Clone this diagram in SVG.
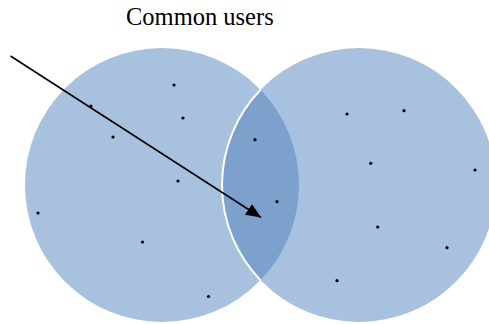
<svg xmlns="http://www.w3.org/2000/svg" width="489" height="324" viewBox="0 0 489 324">
<style>
.set{fill:#A8C1DF;}
.lens{fill:#7BA1CC;}
.edge{fill:none;stroke:#FFFFFF;stroke-width:2;}
.dot{fill:#000000;}
.lbl{font-family:"Liberation Serif","Times New Roman",serif;font-size:24.5px;fill:#000000;}
.conn{stroke:#000000;stroke-width:1.6;fill:none;}
</style>
<defs>
<marker id="ah" markerUnits="userSpaceOnUse" markerWidth="16" markerHeight="14" refX="15" refY="6.5" orient="auto">
<path d="M0,0 L15,6.5 L0,13 Z" fill="#000000"/>
</marker>
</defs>
<rect width="489" height="324" fill="#FFFFFF"/>
<g id="set-left">
<circle class="set" cx="162" cy="185" r="137"/>
</g>
<g id="set-right">
<circle class="set" cx="359" cy="185" r="137"/>
</g>
<g id="common">
<path class="lens" d="M260.5,89.8 A137,137 0 0 1 260.5,280.2 A137,137 0 0 1 260.5,89.8 Z"/>
<path class="edge" d="M260.5,280.2 A137,137 0 0 1 260.5,89.8"/>
</g>
<g id="users-left">
<circle class="dot" cx="174" cy="85" r="1.6"/>
<circle class="dot" cx="91" cy="106" r="1.6"/>
<circle class="dot" cx="183" cy="118" r="1.6"/>
<circle class="dot" cx="113" cy="137" r="1.6"/>
<circle class="dot" cx="178" cy="181" r="1.6"/>
<circle class="dot" cx="38" cy="213" r="1.6"/>
<circle class="dot" cx="142.5" cy="242" r="1.6"/>
<circle class="dot" cx="208.5" cy="296.5" r="1.6"/>
</g>
<g id="users-common">
<circle class="dot" cx="255" cy="139.7" r="1.6"/>
<circle class="dot" cx="277" cy="201.7" r="1.6"/>
</g>
<g id="users-right">
<circle class="dot" cx="347" cy="114" r="1.6"/>
<circle class="dot" cx="404" cy="110.7" r="1.6"/>
<circle class="dot" cx="370.7" cy="163.3" r="1.6"/>
<circle class="dot" cx="475" cy="170" r="1.6"/>
<circle class="dot" cx="377.7" cy="227" r="1.6"/>
<circle class="dot" cx="447" cy="247.7" r="1.6"/>
<circle class="dot" cx="337" cy="280.7" r="1.6"/>
</g>
<g id="label">
<text class="lbl" x="126" y="25">Common users</text>
</g>
<g id="connectors">
<line class="conn" x1="10.5" y1="56" x2="261" y2="217.5" marker-end="url(#ah)"/>
</g>
</svg>
